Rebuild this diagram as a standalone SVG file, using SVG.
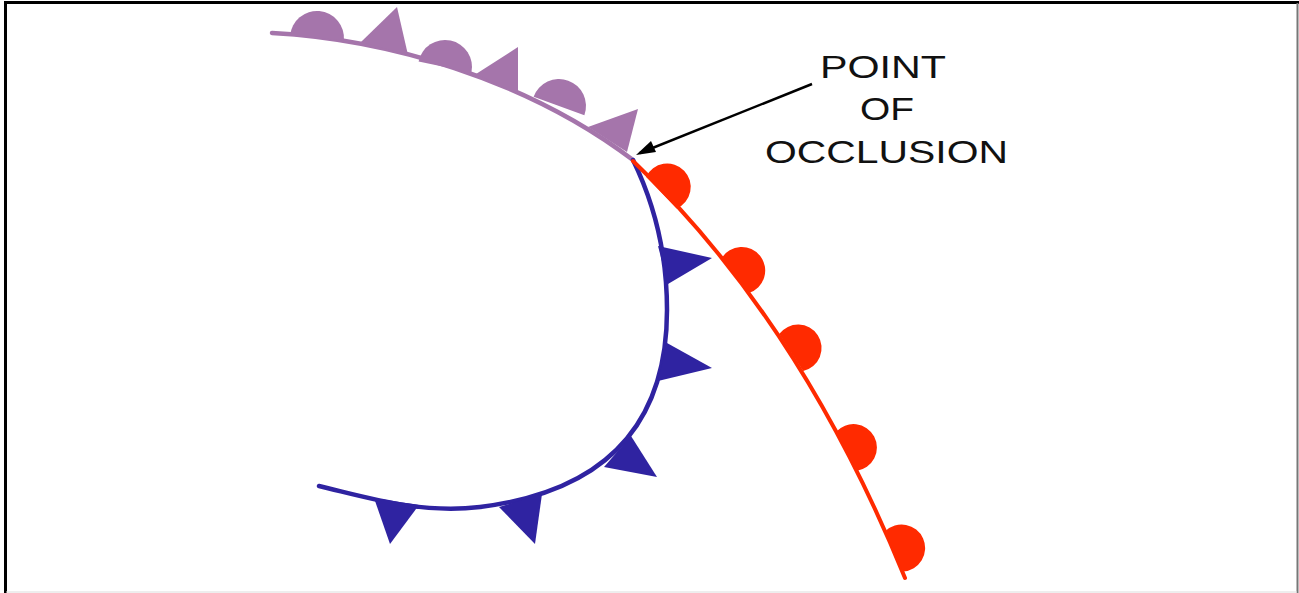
<svg xmlns="http://www.w3.org/2000/svg" width="1299" height="593" viewBox="0 0 1299 593">
<style>
.frame{stroke:#000;stroke-width:3;fill:none}
.occ{fill:#A575AB}
.occ-line{fill:none;stroke:#A575AB;stroke-width:4.5;stroke-linecap:round}
.cold{fill:#2F23A1}
.cold-line{fill:none;stroke:#2F23A1;stroke-width:4.5;stroke-linecap:round}
.warm{fill:#FF2A00}
.warm-line{fill:none;stroke:#FF2A00;stroke-width:4;stroke-linecap:round}
.lbl{font-family:"Liberation Sans",Arial,sans-serif;font-size:32px;fill:#111}
.arrow{stroke:#000;stroke-width:2.5;fill:none}
</style>
<defs>
<path id="semi-occ" d="M-27,0 A27,27 0 0 1 27,0 Z"/>
<path id="semi-warm" d="M-22,1 A23.5,23.5 0 1 1 22,1 Z"/>
</defs>
<rect width="1299" height="593" fill="#fff"/>
<g id="frame">
<line class="frame" x1="4" y1="2.5" x2="1299" y2="2.5"/>
<line class="frame" x1="5.5" y1="1" x2="5.5" y2="593"/>
<line x1="1297.5" y1="3" x2="1297.5" y2="593" stroke="#777" stroke-width="2"/>
<line x1="6" y1="592" x2="1297" y2="592" stroke="#ddd" stroke-width="1"/>
</g>
<g id="occluded-front">
<path class="occ-line" d="M272,33 C385,39 525,78 633,160"/>
<use href="#semi-occ" class="occ" transform="translate(317,38) rotate(5)"/>
<use href="#semi-occ" class="occ" transform="translate(445,67) rotate(12)"/>
<use href="#semi-occ" class="occ" transform="translate(559,106) rotate(20)"/>
<polygon class="occ" points="361,42 408,55 397,7"/>
<polygon class="occ" points="476,74 518,94 518,47"/>
<polygon class="occ" points="588,127 627,152 638,109"/>
</g>
<g id="cold-front">
<path class="cold-line" d="M633,160 C655,205 667,255 667,310 C667,430 600,492 480,507 C420,514 370,498 319,486"/>
<polygon class="cold" points="658,246 668,284 712,258"/>
<polygon class="cold" points="667,343 658,381 712,368"/>
<polygon class="cold" points="631,436 604,467 657,477"/>
<polygon class="cold" points="499,507 542,494 535,544"/>
<polygon class="cold" points="374,498 419,505 390,544"/>
</g>
<g id="warm-front">
<path class="warm-line" d="M633,161 Q800,320 905,578"/>
<use href="#semi-warm" class="warm" transform="translate(662,192) rotate(46)"/>
<use href="#semi-warm" class="warm" transform="translate(736,275) rotate(52)"/>
<use href="#semi-warm" class="warm" transform="translate(792,352) rotate(57)"/>
<use href="#semi-warm" class="warm" transform="translate(847,451) rotate(62)"/>
<use href="#semi-warm" class="warm" transform="translate(895,551) rotate(66)"/>
</g>
<g id="label">
<text class="lbl" x="820" y="78" textLength="126" lengthAdjust="spacingAndGlyphs">POINT</text>
<text class="lbl" x="860" y="120" textLength="54" lengthAdjust="spacingAndGlyphs">OF</text>
<text class="lbl" x="765" y="163" textLength="243" lengthAdjust="spacingAndGlyphs">OCCLUSION</text>
</g>
<g id="connectors">
<line class="arrow" x1="812" y1="84" x2="640" y2="153"/>
<path d="M636,155 L651,141 L656,152 Z" fill="#000"/>
</g>
</svg>
